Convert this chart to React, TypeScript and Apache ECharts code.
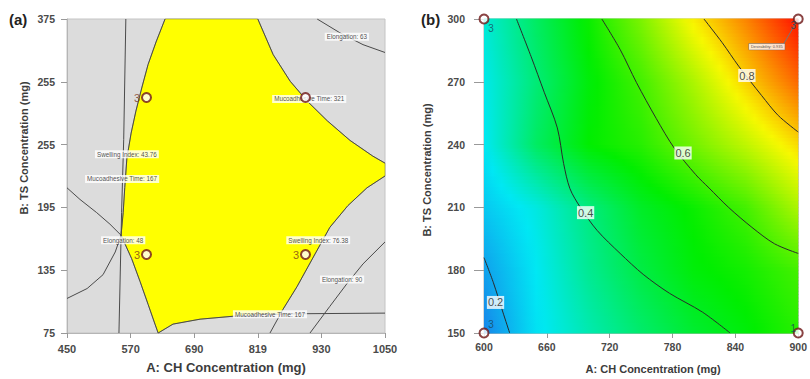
import React, { useEffect, useRef } from 'react';
import * as echarts from 'echarts';

// ---------- Panel (a): overlay plot ----------
const xTickValuesA = [450, 570, 690, 810, 930, 1050];
const xTickLabelsA = ['450', '570', '690', '819', '930', '1050'];
const yTickValuesA = [75, 135, 195, 255, 315, 375];
const yTickLabelsA = ['75', '135', '195', '255', '255', '375'];

const swelling4376 = [[561, 375], [557, 260], [553, 190], [548, 75]];
const mucoTime167Left = [[450, 108], [488, 117.5], [518, 130.7], [541, 152.4], [552, 168.4], [556, 190], [559, 214], [563, 242], [571, 266], [580, 287], [591.5, 310], [603, 331.6], [618, 353], [635, 375]];
const elongation48 = [[450, 213.7], [474.5, 202.6], [506, 190], [531, 179], [552, 168.4], [572, 146], [588, 124], [603, 102.4], [616, 83.5], [622, 75]];
const mucoTime167Bottom = [[622, 75], [650, 83.5], [701, 88.2], [763, 91], [814, 92.5], [890, 93.4], [1050, 94]];
const swelling7638 = [[833, 75], [857.5, 97.6], [884, 119.3], [918, 150.5], [946, 176], [980, 196.7], [1016, 213.7], [1050, 225]];
const mucoTime321 = [[810, 375], [839, 341], [871, 315.6], [903, 296.7], [941, 277.8], [984, 259], [1027, 244], [1050, 237.3]];
const elongation63 = [[922, 375], [965, 361.8], [1008.5, 350.5], [1050, 343]];
const elongation90 = [[908.5, 75], [946, 100.5], [978, 122], [1008.5, 141], [1050, 162]];

const feasibleRegion = [
  [635, 375], [618, 353], [603, 331.6], [591.5, 310], [580, 287], [571, 266], [563, 242], [559, 214], [556, 190], [552, 168.4],
  [572, 146], [588, 124], [603, 102.4], [616, 83.5], [622, 75],
  [650, 83.5], [701, 88.2], [763, 91], [814, 92.5], [852, 93],
  [857.5, 97.6], [884, 119.3], [918, 150.5], [946, 176], [980, 196.7], [1016, 213.7], [1050, 225],
  [1050, 237.3], [1027, 244], [984, 259], [941, 277.8], [903, 296.7], [871, 315.6], [839, 341], [810, 375],
];

const constraintLabelsA = [
  [978, 358, 'Elongation: 63'],
  [907, 298.6, 'Mucoadhesive Time: 321'],
  [563, 245.8, 'Swelling Index: 43.76'],
  [554, 222.2, 'Mucoadhesive Time: 167'],
  [556, 163.7, 'Elongation: 48'],
  [924, 163.7, 'Swelling Index: 76.38'],
  [969, 126, 'Elongation: 90'],
  [833, 92.9, 'Mucoadhesive Time: 167'],
];

const designPointsA = [[600, 300], [900, 300], [600, 150], [900, 150]];
const designRunsA = ['3', '', '3', '3'];

// ---------- Panel (b): desirability ----------
const xTicksB = [600, 660, 720, 780, 840, 900];
const yTicksB = [150, 180, 210, 240, 270, 300];

const desirX = [600, 650, 700, 750, 800, 850, 900];
const desirY = [150, 180, 210, 240, 270, 300];
const desirRows = [
  [0.10, 0.24, 0.32, 0.39, 0.45, 0.49, 0.54],
  [0.14, 0.25, 0.35, 0.43, 0.49, 0.52, 0.57],
  [0.20, 0.27, 0.37, 0.46, 0.51, 0.57, 0.68],
  [0.25, 0.40, 0.50, 0.54, 0.62, 0.70, 0.79],
  [0.26, 0.38, 0.49, 0.57, 0.68, 0.80, 0.91],
  [0.28, 0.40, 0.51, 0.63, 0.77, 0.88, 1.0],
];

const contour02 = [[600, 186], [609, 174], [618, 160], [624.5, 150]];
const contour04 = [[631, 300], [645, 282], [657.5, 265], [670, 248], [676, 231], [682, 219], [692, 210], [708, 199], [730, 188], [752, 178], [777, 169], [808.5, 160], [835, 150]];
const contour06 = [[712.5, 300], [730, 285.4], [745.6, 269.6], [764.4, 252.5], [781.8, 238.2], [802.2, 225.6], [814.8, 219.3], [833.7, 209.9], [855.7, 200.5], [877.4, 192.6], [900, 188]];
const contour08 = [[810, 300], [827.4, 288.7], [843.1, 277.5], [865.1, 263.4], [880.9, 253.9], [900, 246]];
const contourLabels = [[851, 273, '0.8'], [790, 236, '0.6'], [697, 207.5, '0.4'], [611, 164.6, '0.2']];

const designPointsB = [[600, 300], [600, 150], [900, 300], [900, 150]];
const designRunsB = ['3', '3', '3', '1'];
const desirabilityNote = [[870, 286.8, 'Desirability: 0.935']];
const desirabilityPointer = [[886, 288], [900, 300]];

// ---------- styling helpers ----------
const FONT = '"Liberation Sans", Arial, sans-serif';
const colorScale: [number, number[]][] = [
  [0.08, [26, 120, 232]],
  [0.25, [0, 232, 244]],
  [0.5, [0, 238, 0]],
  [0.76, [248, 248, 0]],
  [0.98, [255, 36, 0]],
];
function colorOf(v: number): string {
  if (v <= colorScale[0][0]) return `rgb(${colorScale[0][1].join(',')})`;
  for (let i = 0; i < colorScale.length - 1; i++) {
    const [a, ca] = colorScale[i];
    const [b, cb] = colorScale[i + 1];
    if (v <= b) {
      const t = (v - a) / (b - a);
      const c = ca.map((x, k) => Math.round(x + (cb[k] - x) * t));
      return `rgb(${c.join(',')})`;
    }
  }
  return `rgb(${colorScale[colorScale.length - 1][1].join(',')})`;
}

const lineA = (data: number[][]) => ({
  type: 'line',
  xAxisIndex: 0,
  yAxisIndex: 0,
  data,
  showSymbol: false,
  symbol: 'none',
  silent: true,
  lineStyle: { color: '#4a4a4a', width: 1 },
  z: 3,
});
const lineB = (data: number[][]) => ({
  type: 'line',
  xAxisIndex: 1,
  yAxisIndex: 1,
  data,
  showSymbol: false,
  symbol: 'none',
  smooth: 0.3,
  silent: true,
  lineStyle: { color: '#2a2a2a', width: 1 },
  z: 3,
});

const tickLabelStyle = (size: number) => ({
  fontSize: size,
  fontWeight: 'bold',
  color: '#4a4a4a',
  fontFamily: FONT,
});

function buildOption() {
  return {
    animation: false,
    textStyle: { fontFamily: FONT },
    title: [
      { text: '(a)', left: 9, top: 12, padding: 0, textStyle: { fontSize: 15, fontWeight: 'bold', color: '#222', fontFamily: FONT } },
      { text: '(b)', left: 421, top: 12, padding: 0, textStyle: { fontSize: 15, fontWeight: 'bold', color: '#222', fontFamily: FONT } },
    ],
    grid: [
      { left: 67, top: 19, width: 318, height: 318, show: true, backgroundColor: '#dcdcdc', borderColor: '#c4c4c4', borderWidth: 1 },
      { left: 484, top: 19, width: 318, height: 318, show: true, backgroundColor: '#ffffff', borderColor: '#b0b0b0', borderWidth: 1 },
    ],
    xAxis: [
      {
        gridIndex: 0, type: 'value', min: 450, max: 1050,
        name: 'A: CH Concentration (mg)', nameLocation: 'middle', nameGap: 28,
        nameTextStyle: { fontSize: 13, fontWeight: 'bold', color: '#3c3c3c', fontFamily: FONT },
        axisLine: { show: true, lineStyle: { color: '#b5b5b5' } },
        axisTick: { show: true, length: 5, customValues: xTickValuesA, lineStyle: { color: '#999' } },
        axisLabel: {
          customValues: xTickValuesA, margin: 10, ...tickLabelStyle(11),
          formatter: (v: number) => xTickLabelsA[xTickValuesA.indexOf(v)] ?? '',
        },
        splitLine: { show: false },
      },
      {
        gridIndex: 1, type: 'value', min: 600, max: 900, interval: 60,
        name: 'A: CH Concentration (mg)', nameLocation: 'middle', nameGap: 30,
        nameTextStyle: { fontSize: 11, fontWeight: 'bold', color: '#3c3c3c', fontFamily: FONT, padding: [0, 0, 0, 24] },
        axisLine: { show: true, lineStyle: { color: '#b5b5b5' } },
        axisTick: { show: true, length: 5, lineStyle: { color: '#999' } },
        axisLabel: { margin: 8, ...tickLabelStyle(10.5), formatter: (v: number) => (xTicksB.includes(v) ? String(v) : '') },
        splitLine: { show: false },
      },
    ],
    yAxis: [
      {
        gridIndex: 0, type: 'value', min: 75, max: 375,
        name: 'B: TS Concentration (mg)', nameLocation: 'middle', nameGap: 38,
        nameTextStyle: { fontSize: 11, fontWeight: 'bold', color: '#3c3c3c', fontFamily: FONT, padding: [0, 0, 0, 56] },
        axisLine: { show: true, lineStyle: { color: '#b5b5b5' } },
        axisTick: { show: true, length: 6, customValues: yTickValuesA, lineStyle: { color: '#999' } },
        axisLabel: {
          customValues: yTickValuesA, margin: 12, ...tickLabelStyle(10.5),
          formatter: (v: number) => yTickLabelsA[yTickValuesA.indexOf(v)] ?? '',
        },
        splitLine: { show: false },
      },
      {
        gridIndex: 1, type: 'value', min: 150, max: 300, interval: 30,
        name: 'B: TS Concentration (mg)', nameLocation: 'middle', nameGap: 52,
        nameTextStyle: { fontSize: 11, fontWeight: 'bold', color: '#3c3c3c', fontFamily: FONT, padding: [0, 0, 0, 12] },
        axisLine: { show: true, lineStyle: { color: '#b5b5b5' } },
        axisTick: { show: true, length: 10, lineStyle: { color: '#999' } },
        axisLabel: { margin: 19, ...tickLabelStyle(10.5), formatter: (v: number) => (yTicksB.includes(v) ? String(v) : '') },
        splitLine: { show: false },
      },
    ],
    series: [
      // feasible (yellow) region
      {
        type: 'custom',
        xAxisIndex: 0,
        yAxisIndex: 0,
        silent: true,
        data: feasibleRegion,
        z: 2,
        renderItem: (params: any, api: any) => {
          if (params.dataIndex !== 0) return null;
          const points = feasibleRegion.map((p) => api.coord(p));
          return { type: 'polygon', shape: { points }, style: { fill: '#ffff00', stroke: '#8a8a3a', lineWidth: 0.6 } };
        },
      },
      lineA(swelling4376),
      lineA(mucoTime167Left),
      lineA(elongation48),
      lineA(mucoTime167Bottom),
      lineA(swelling7638),
      lineA(mucoTime321),
      lineA(elongation63),
      lineA(elongation90),
      {
        type: 'scatter',
        xAxisIndex: 0,
        yAxisIndex: 0,
        silent: true,
        symbolSize: 0,
        data: constraintLabelsA,
        z: 4,
        label: {
          show: true,
          position: 'inside',
          formatter: (p: any) => p.data[2],
          fontSize: 6.3,
          color: '#222',
          backgroundColor: '#ffffff',
          padding: [1, 2],
          fontFamily: FONT,
        },
      },
      {
        type: 'scatter',
        xAxisIndex: 0,
        yAxisIndex: 0,
        silent: true,
        clip: false,
        symbol: 'circle',
        symbolSize: 9,
        itemStyle: { color: '#ffffff', borderColor: '#6e1515', borderWidth: 2 },
        data: designPointsA.map((p, i) => ({ value: p, name: designRunsA[i] })),
        z: 6,
        label: {
          show: true,
          position: 'left',
          distance: 1,
          formatter: (p: any) => p.name,
          fontSize: 11,
          color: '#7a3a1a',
          fontFamily: FONT,
        },
      },
      // desirability surface
      {
        type: 'custom',
        xAxisIndex: 1,
        yAxisIndex: 1,
        silent: true,
        z: 1,
        data: desirY.slice(0, -1).map((y, j) => [desirX[0], y, j]),
        renderItem: (params: any, api: any) => {
          const j = api.value(2) as number;
          const r0 = desirRows[j];
          const r1 = desirRows[j + 1];
          const S = 18;
          const K = 6;
          const n = desirX.length - 1;
          const left = api.coord([desirX[0], desirY[j]])[0];
          const right = api.coord([desirX[n], desirY[j]])[0];
          const children: any[] = [];
          for (let s = 0; s < S; s++) {
            const t0 = s / S;
            const t1 = (s + 1) / S;
            const tm = (t0 + t1) / 2;
            const yA = desirY[j] + (desirY[j + 1] - desirY[j]) * t0;
            const yB = desirY[j] + (desirY[j + 1] - desirY[j]) * t1;
            const pA = api.coord([desirX[0], yA])[1];
            const pB = api.coord([desirX[0], yB])[1];
            const stops: any[] = [];
            for (let i = 0; i < n; i++) {
              for (let k = 0; k < K; k++) {
                const u = k / K;
                const lo = r0[i] + (r0[i + 1] - r0[i]) * u;
                const hi = r1[i] + (r1[i + 1] - r1[i]) * u;
                stops.push({ offset: (i + u) / n, color: colorOf(lo + (hi - lo) * tm) });
              }
            }
            stops.push({ offset: 1, color: colorOf(r0[n] + (r1[n] - r0[n]) * tm) });
            children.push({
              type: 'rect',
              shape: { x: left, y: Math.min(pA, pB) - 0.5, width: right - left, height: Math.abs(pA - pB) + 1 },
              style: { fill: { type: 'linear', x: 0, y: 0, x2: 1, y2: 0, colorStops: stops } },
            });
          }
          return { type: 'group', children };
        },
      },
      lineB(contour02),
      lineB(contour04),
      lineB(contour06),
      lineB(contour08),
      {
        type: 'scatter',
        xAxisIndex: 1,
        yAxisIndex: 1,
        silent: true,
        symbolSize: 0,
        data: contourLabels,
        z: 4,
        label: {
          show: true,
          position: 'inside',
          formatter: (p: any) => p.data[2],
          fontSize: 11,
          color: '#222',
          backgroundColor: '#ffffff',
          padding: [1, 1],
          fontFamily: FONT,
        },
      },
      {
        type: 'line',
        xAxisIndex: 1,
        yAxisIndex: 1,
        data: desirabilityPointer,
        showSymbol: false,
        symbol: 'none',
        silent: true,
        lineStyle: { color: '#777', width: 1 },
        z: 4,
      },
      {
        type: 'scatter',
        xAxisIndex: 1,
        yAxisIndex: 1,
        silent: true,
        symbolSize: 0,
        data: desirabilityNote,
        z: 5,
        label: {
          show: true,
          position: 'inside',
          formatter: (p: any) => p.data[2],
          fontSize: 4,
          color: '#222',
          backgroundColor: '#ffffff',
          borderColor: '#666',
          borderWidth: 0.5,
          padding: [1, 2],
          fontFamily: FONT,
        },
      },
      {
        type: 'scatter',
        xAxisIndex: 1,
        yAxisIndex: 1,
        silent: true,
        clip: false,
        symbol: 'circle',
        symbolSize: 9,
        itemStyle: { color: '#ffffff', borderColor: '#6e1515', borderWidth: 2 },
        z: 6,
        data: designPointsB.map((p, i) => {
          const offs = [[7, 9], [7, -9], [-5, 6], [-5, -5]][i];
          return { value: p, name: designRunsB[i], label: { offset: offs } };
        }),
        label: {
          show: true,
          position: 'inside',
          formatter: (p: any) => p.name,
          fontSize: 10,
          color: '#1a4a5a',
          fontFamily: FONT,
        },
      },
    ],
  };
}

export default function App() {
  const ref = useRef<HTMLDivElement>(null);
  useEffect(() => {
    if (!ref.current) return;
    const chart = echarts.init(ref.current, undefined, { renderer: 'svg' });
    chart.setOption(buildOption() as any);
    return () => chart.dispose();
  }, []);
  return (
    <div
      ref={ref}
      style={{ position: 'fixed', left: 0, top: 0, width: 810, height: 379, background: '#ffffff' }}
    />
  );
}
